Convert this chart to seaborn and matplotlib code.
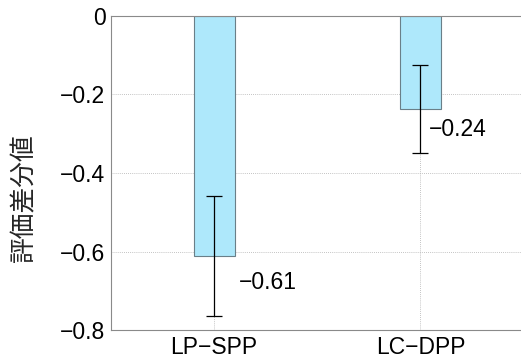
import matplotlib
matplotlib.use("Agg")
import matplotlib.pyplot as plt
import seaborn as sns
import pandas as pd

categories = ["LP\u2212SPP", "LC\u2212DPP"]
values = [-0.611, -0.237]
errors = [0.153, 0.112]
labels = ["\u22120.61", "\u22120.24"]
label_x = [0.12, 1.04]
label_y = [-0.678, -0.29]
yticks = [0, -0.2, -0.4, -0.6, -0.8]
ytick_labels = ["0", "\u22120.2", "\u22120.4", "\u22120.6", "\u22120.8"]

sns.set_theme(style="white")
plt.rcParams["font.family"] = ["Liberation Sans", "Noto Sans CJK JP"]

df = pd.DataFrame({"method": categories, "value": values})

fig = plt.figure(figsize=(5.21, 3.62), dpi=100)
ax = fig.add_axes([0.213, 0.088, 0.80, 0.868])

sns.barplot(data=df, x="method", y="value", width=0.2, color="#aee8fb",
            saturation=1, edgecolor="#6a7f88", linewidth=0.8, ax=ax, zorder=2)
ax.errorbar(range(len(values)), values, yerr=errors, fmt="none",
            ecolor="black", elinewidth=0.9, capsize=6, capthick=0.9, zorder=3)

for x, y, t in zip(label_x, label_y, labels):
    ax.text(x, y, t, fontsize=16.5, ha="left", va="center", color="black",
            family="Liberation Sans")

ax.set_xlim(-0.5, 1.52)
ax.set_ylim(-0.8, 0)
ax.set_yticks(yticks)
ax.set_yticklabels(ytick_labels, fontsize=16.5, family="Liberation Sans")
ax.set_xticks(range(len(categories)))
ax.set_xticklabels(categories, fontsize=16.5, family="Liberation Sans")
ax.set_xlabel("")
ax.set_ylabel("評価差分値", fontsize=18.5, family=["Noto Sans CJK JP", "DejaVu Sans"])
ax.yaxis.label.set_va("center")
ax.yaxis.set_label_coords(-0.209, 0.42)

ax.grid(True, linestyle=(0, (1, 1.5)), color="#b0b0b0", linewidth=0.6, zorder=0)
ax.set_axisbelow(True)
for s in ["left", "bottom", "top"]:
    ax.spines[s].set_color("#8a8a8a")
    ax.spines[s].set_linewidth(0.8)
ax.spines["right"].set_visible(False)
ax.tick_params(axis="both", direction="in", length=3, width=0.6, color="#8a8a8a",
               pad=4, labelcolor="black")

fig.savefig("out.png", dpi=100)
